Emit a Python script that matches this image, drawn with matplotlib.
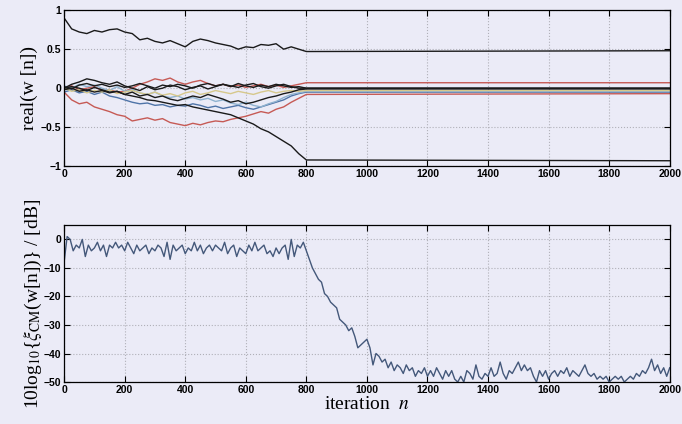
import numpy as np
import matplotlib
matplotlib.use("Agg")
import matplotlib.pyplot as plt

# iteration grid for the weight trajectories (every 25 up to 800, then end)
n_w = list(range(0, 801, 25)) + [2000]

w_top = [0.90, 0.76, 0.72, 0.70, 0.74, 0.72, 0.75, 0.76, 0.72, 0.70, 0.62, 0.64, 0.60, 0.58, 0.61, 0.57, 0.53,
         0.60, 0.63, 0.61, 0.58, 0.56, 0.54, 0.50, 0.53, 0.52, 0.56, 0.55, 0.57, 0.50, 0.53, 0.50, 0.47, 0.48]
w_down = [0.00, 0.02, 0.00, -0.03, 0.01, -0.02, -0.05, -0.04, -0.08, -0.10, -0.12, -0.15, -0.16, -0.18, -0.20, -0.22, -0.21,
          -0.24, -0.26, -0.28, -0.30, -0.32, -0.34, -0.38, -0.42, -0.46, -0.52, -0.56, -0.62, -0.68, -0.74, -0.84, -0.92, -0.93]
w_red_lo = [-0.05, -0.15, -0.20, -0.18, -0.24, -0.27, -0.30, -0.34, -0.36, -0.42, -0.40, -0.38, -0.41, -0.39, -0.44, -0.46, -0.48,
            -0.45, -0.47, -0.44, -0.42, -0.43, -0.40, -0.38, -0.36, -0.33, -0.30, -0.32, -0.27, -0.24, -0.18, -0.13, -0.08, -0.07]
w_red_hi = [0.00, 0.03, -0.02, 0.00, 0.02, -0.03, -0.02, -0.05, -0.04, 0.00, 0.05, 0.08, 0.12, 0.10, 0.13, 0.08, 0.05,
            0.08, 0.10, 0.06, 0.03, 0.05, 0.02, 0.04, 0.01, 0.03, 0.05, 0.02, 0.04, 0.01, 0.03, 0.05, 0.07, 0.07]
w_blue = [-0.05, -0.02, -0.06, -0.04, -0.08, -0.05, -0.10, -0.12, -0.15, -0.18, -0.20, -0.19, -0.22, -0.21, -0.24, -0.22, -0.23,
          -0.20, -0.22, -0.25, -0.23, -0.26, -0.24, -0.22, -0.25, -0.27, -0.24, -0.21, -0.18, -0.15, -0.10, -0.07, -0.05, -0.05]
w_blk_a = [0.00, 0.05, 0.08, 0.12, 0.10, 0.07, 0.05, 0.08, 0.03, 0.00, -0.03, 0.02, -0.02, 0.00, 0.04, 0.02, -0.02,
           0.01, 0.03, -0.01, 0.02, 0.05, 0.03, 0.01, 0.04, 0.06, 0.02, 0.00, 0.03, 0.05, 0.02, 0.00, 0.00, 0.00]
w_blk_b = [-0.02, 0.00, -0.04, -0.02, -0.05, -0.03, -0.06, -0.04, -0.08, -0.05, -0.10, -0.08, -0.12, -0.10, -0.14, -0.16, -0.13,
           -0.10, -0.12, -0.08, -0.11, -0.14, -0.18, -0.16, -0.20, -0.18, -0.15, -0.12, -0.10, -0.07, -0.05, -0.02, -0.01, -0.01]
w_yellow = [0.00, -0.04, -0.02, -0.06, -0.03, -0.05, -0.02, -0.07, -0.05, -0.03, -0.06, -0.08, -0.05, -0.09, -0.07, -0.10, -0.06,
            -0.04, -0.08, -0.06, -0.03, -0.05, -0.07, -0.04, -0.06, -0.08, -0.05, -0.03, -0.06, -0.04, -0.03, -0.04, -0.03, -0.03]
w_cyan = [0.03, 0.00, 0.05, 0.02, 0.04, 0.00, -0.03, 0.02, -0.04, -0.02, -0.06, -0.08, -0.05, -0.10, -0.12, -0.10, -0.14,
          -0.12, -0.15, -0.13, -0.17, -0.15, -0.19, -0.21, -0.18, -0.22, -0.24, -0.20, -0.17, -0.12, -0.08, -0.06, -0.04, -0.04]
w_blk_c = [0.02, -0.01, 0.04, 0.06, 0.03, 0.05, 0.02, 0.04, 0.01, 0.03, 0.06, 0.03, 0.00, 0.04, 0.02, 0.05, 0.03,
           0.00, 0.04, 0.06, 0.03, 0.05, 0.02, 0.06, 0.03, 0.01, 0.04, 0.02, 0.05, 0.03, 0.01, 0.02, 0.00, 0.00]

# cost in dB, every 10 iterations
n_cost = list(range(0, 2001, 10))
cost_db = [
    -8, 1, 0, -4, -2, -3, 0, -6, -2, -4, -3, -1, -4, -2, -6, -2, -3, -1, -3, -2,
    -4, -1, -3, -5, -2, -4, -3, -2, -5, -3, -4, -2, -3, -6, -1, -7, -2, -4, -3, -2,
    -5, -3, -4, -1, -4, -2, -5, -3, -2, -4, -2, -3, -4, -1, -5, -3, -2, -6, -3, -4,
    -5, -2, -4, -1, -4, -3, -2, -5, -4, -6, -3, -5, -3, -2, -7, 0, -6, -2, -3, -1,
    -4, -7, -10, -12, -14, -15, -19, -20, -22, -23, -24, -28, -29, -30, -32, -31, -34, -38, -37, -36,
    -35, -38, -44, -40, -41, -43, -42, -45, -43, -46, -44, -45, -47, -44, -46, -45, -48, -46, -47, -45,
    -48, -46, -48, -45, -47, -49, -46, -48, -46, -49, -50, -48, -50, -46, -47, -49, -44, -48, -49, -47,
    -48, -45, -48, -47, -43, -47, -49, -46, -47, -45, -43, -46, -44, -46, -45, -48, -50, -46, -48, -46,
    -49, -47, -46, -48, -46, -47, -45, -48, -46, -47, -48, -46, -44, -47, -48, -47, -49, -48, -49, -48,
    -50, -49, -48, -49, -48, -50, -49, -48, -49, -47, -48, -46, -47, -45, -42, -46, -44, -47, -45, -48,
    -45]

bg = "#ebebf7"
plt.rcParams["mathtext.fontset"] = "stix"
fig = plt.figure(figsize=(6.82, 4.24), dpi=100, facecolor=bg)
ax1 = fig.add_axes([0.094, 0.608, 0.888, 0.368])
ax2 = fig.add_axes([0.094, 0.099, 0.888, 0.370])

series = [(w_red_lo, "#c65a55"), (w_red_hi, "#c65a55"), (w_blue, "#4f74a8"), (w_cyan, "#8fb2cf"),
          (w_yellow, "#d6c88c"), (w_blk_b, "#1a1a1a"), (w_blk_a, "#1a1a1a"), (w_blk_c, "#1a1a1a"),
          (w_down, "#1a1a1a"), (w_top, "#1a1a1a")]
for vals, c in series:
    ax1.plot(n_w, vals, color=c, lw=1.0)

ax2.plot(n_cost, cost_db, color="#44587a", lw=1.0)

tick_font = dict(family="Liberation Sans", weight="bold", size=7.5)
for ax in (ax1, ax2):
    ax.set_facecolor(bg)
    ax.set_xlim(0, 2000)
    ax.set_xticks(range(0, 2001, 200))
    ax.grid(True, color="#b0b0b8", ls=":", lw=0.8)
    ax.tick_params(direction="in", top=True, right=True, length=4, width=0.8, pad=2)
    for lab in ax.get_xticklabels() + ax.get_yticklabels():
        lab.set(**tick_font)
    for s in ax.spines.values():
        s.set_linewidth(0.9)

ax1.set_ylim(-1, 1)
ax1.set_yticks([-1, -0.5, 0, 0.5, 1])
ax1.set_yticklabels(["\u22121", "\u22120.5", "0", "0.5", "1"], **tick_font)
ax2.set_ylim(-50, 5)
ax2.set_yticks(range(-50, 1, 10))
ax2.set_yticklabels(["\u221250", "\u221240", "\u221230", "\u221220", "\u221210", "0"], **tick_font)

serif = dict(family="Liberation Serif", size=14)
ax1.set_ylabel("real(w [n])", labelpad=2, **serif)
ax2.set_ylabel(r"10log$_{10}${$\xi_{\rm CM}$(w[n])} / [dB]", labelpad=0, **serif)
ax2.set_xlabel(r"iteration  $n$", labelpad=1, **serif)

fig.savefig("out.png", dpi=100, facecolor=bg)
